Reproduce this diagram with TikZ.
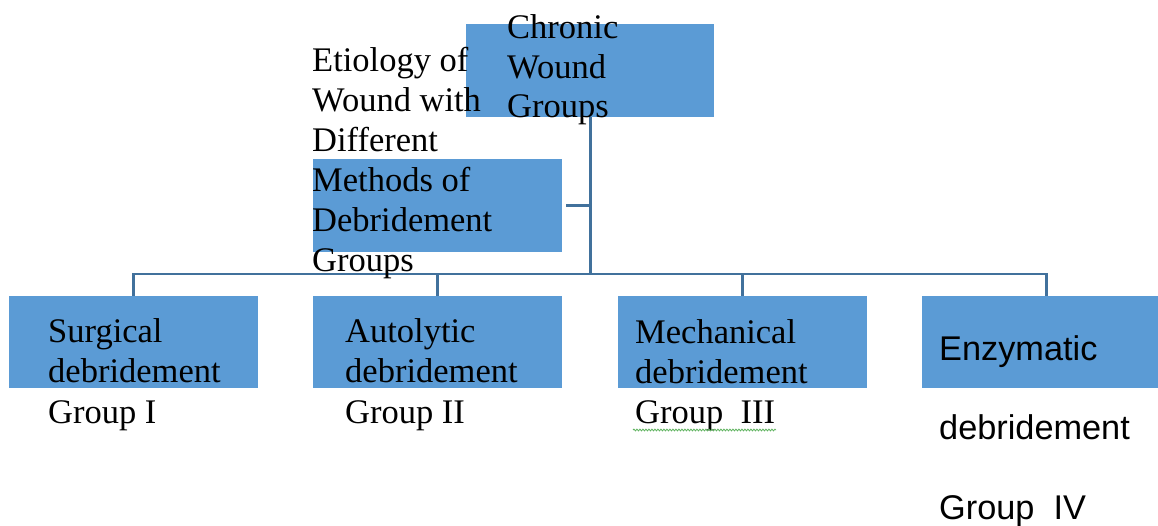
\documentclass[tikz,border=0pt]{standalone}
\usepackage{fontspec}
\setmainfont{Liberation Serif}
\newfontfamily\arialf{Liberation Sans}
\usetikzlibrary{decorations.pathmorphing}
\definecolor{boxblue}{HTML}{5B9BD5}
\definecolor{linecol}{HTML}{41719C}
\definecolor{squig}{HTML}{5FB35F}
\begin{document}
\begin{tikzpicture}[x=1pt,y=-1pt,
  box/.style={fill=boxblue, draw=none, minimum width=249pt, minimum height=92pt, inner sep=0pt, anchor=north west},
  lbl/.style={anchor=base west, inner sep=0pt, align=left, font=\fontsize{34.5}{40}\selectfont},
  slbl/.style={anchor=base west, inner sep=0pt, align=left, font=\arialf\fontsize{34.3}{79.5}\selectfont},
  conn/.style={draw=linecol, line width=2.8pt}]
\useasboundingbox (0,0) rectangle (1158,526);
% boxes
\node[box, minimum width=248pt, minimum height=93pt] (top) at (466,24) {};
\node[box, minimum height=93pt] (etio) at (313,159) {};
\node[box] (b1) at (9,296) {};
\node[box] (b2) at (313,296) {};
\node[box] (b3) at (618,296) {};
\node[box] (b4) at (922,296) {};
% connectors
\coordinate (bus) at (589,274);
\draw[conn] (top.south) -- (top.south |- bus);
\draw[conn] ([xshift=4pt]etio.east) -- (etio.east -| top.south);
\draw[conn] (b1.north) |- (bus) -| (b4.north);
\draw[conn] (b2.north) -- (b2.north |- bus);
\draw[conn] (b3.north) -- (b3.north |- bus);
% texts (anchored at the baseline of their last line)
\node[lbl, font=\fontsize{34.5}{39.5}\selectfont] (tTop) at (507,118) {Chronic\\Wound\\Groups};
\node[lbl] (tEtio) at (312,272) {Etiology of\\Wound with\\Different\\Methods of\\Debridement\\Groups};
\node[lbl, font=\fontsize{34.5}{40.5}\selectfont] (t1) at (48,423) {Surgical\\debridement\\Group I};
\node[lbl, font=\fontsize{34.5}{40.5}\selectfont] (t2) at (345,423) {Autolytic\\debridement\\Group II};
\node[lbl, font=\fontsize{34.5}{40}\selectfont] (t3) at (635,423) {Mechanical\\debridement\\Group~~III};
\node[slbl] (t4) at (939,519) {Enzymatic\\debridement\\Group~~IV};
% spell-check squiggle
\draw[squig, line width=0.8pt, decorate, decoration={snake, amplitude=0.9pt, segment length=3pt}] (633,430) -- (776,430);
\end{tikzpicture}
\end{document}
